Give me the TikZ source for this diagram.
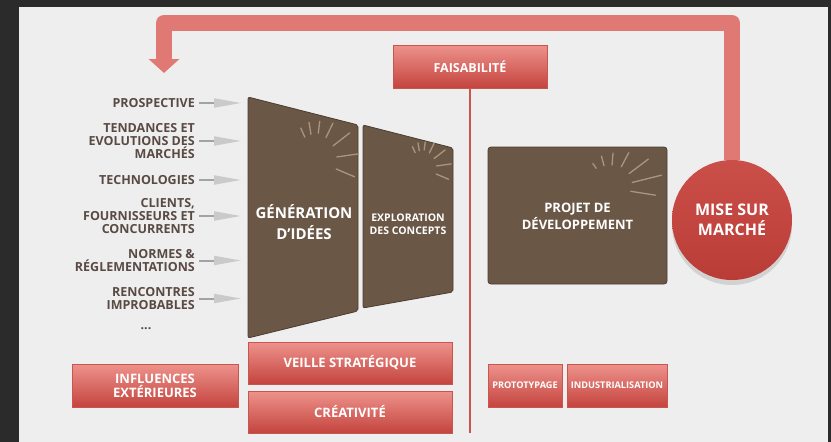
\documentclass[tikz,border=0pt]{standalone}
\usepackage{fontspec}
\setmainfont{Open Sans}
\usetikzlibrary{arrows.meta,shadows}

\definecolor{fond}{HTML}{2B2B2B}
\definecolor{papier}{HTML}{EEEEEE}
\definecolor{brun}{HTML}{6A5746}
\definecolor{brunfonce}{HTML}{4B3D31}
\definecolor{rayonclair}{HTML}{A8967F}
\definecolor{textebrun}{HTML}{5A4A44}
\definecolor{rougehaut}{HTML}{EE928C}
\definecolor{rougebas}{HTML}{C4443E}
\definecolor{bordrouge}{HTML}{C9554F}
\definecolor{rougerond}{HTML}{CB4F49}
\definecolor{rougerondbas}{HTML}{BA3C36}
\definecolor{retourrouge}{HTML}{E07973}
\definecolor{fleche}{HTML}{A3A3A3}
\definecolor{flechetete}{HTML}{CACACA}

\tikzset{
  boite/.style={draw=bordrouge, line width=0.5pt, top color=rougehaut, bottom color=rougebas,
    text=white, align=center, inner sep=0pt},
  etiquette/.style={anchor=east, align=right, text=textebrun, inner sep=0pt,
    font=\bfseries\fontsize{12.5}{13}\selectfont},
  entree/.style={line width=2pt, draw=fleche, -{Triangle[length=27pt,width=9pt,color=flechetete]}},
  panneau/.style={fill=brun, draw=brunfonce, line width=0.8pt, rounded corners=2pt},
  rayon/.style={draw=rayonclair, line width=1.3pt, line cap=round},
  titre/.style={text=white, align=center, inner sep=0pt},
  retour/.style={draw=retourrouge, line width=16pt, line join=round,
    -{Triangle[length=14pt,width=30pt]}},
}

\begin{document}
\begin{tikzpicture}[x=1pt,y=-1pt]
% fond sombre et feuille
\fill[fond] (0,0) rectangle (831,442);
\fill[papier] (19,7) rectangle (828,442);
\useasboundingbox (0,0) rectangle (831,442);

% les trois panneaux bruns
\draw[panneau] (248,97) -- (358,125) -- (358,311) -- (248,338) -- cycle;
\draw[panneau] (363,125) -- (453,148) -- (453,292) -- (363,308) -- cycle;
\draw[panneau, rounded corners=3pt] (488,147) rectangle (667,284);

% rayons (angle/debut/fin)
\foreach \cx/\cy/\s in {315/160/1, 422/168/0.67} {
  \begin{scope}[shift={(\cx,\cy)}, scale=\s]
    \foreach \a/\r/\R in {114/25/35, 99/26/38, 83/27/39, 64/25/41, 38/23/44, 8/22/44, -23/23/43}
      \draw[rayon] (\a:\r pt) -- (\a:\R pt);
  \end{scope}
}
\begin{scope}[shift={(610,188)}]
  \foreach \a/\r/\R in {125/24/30, 105/23/33, 85/23/35, 62/24/40, 37/24/48, 14/23/53, -9/21/46}
    \draw[rayon] (\a:\r pt) -- (\a:\R pt);
\end{scope}

% textes des panneaux
\node[titre, font=\bfseries\fontsize{15}{21}\selectfont] (gen) at (304,222) {GÉNÉRATION\\D’IDÉES};
\node[titre, font=\bfseries\fontsize{10.5}{12.5}\selectfont] (explo) at (408,224) {EXPLORATION\\DES CONCEPTS};
\node[titre, font=\bfseries\fontsize{13}{17}\selectfont] (projet) at (577.5,216) {PROJET DE\\DÉVELOPPEMENT};

% influences a gauche
\node[etiquette] (prosp) at (195,103) {PROSPECTIVE};
\node[etiquette] (tend) at (195,141) {TENDANCES ET\\EVOLUTIONS DES\\MARCHÉS};
\node[etiquette] (techno) at (195,180) {TECHNOLOGIES};
\node[etiquette] (clients) at (195,216) {CLIENTS,\\FOURNISSEURS ET\\CONCURRENTS};
\node[etiquette] (normes) at (195,260.5) {NORMES \&\\RÉGLEMENTATIONS};
\node[etiquette] (renc) at (195,298.5) {RENCONTRES\\IMPROBABLES};
\node[etiquette, anchor=center] (etc) at (146,329) {...};

% petites fleches vers le panneau
\coordinate (bord) at (241,0);
\foreach \n in {prosp,tend,techno,clients,normes,renc}
  \draw[entree] ([xshift=4pt]\n.east) -- (\n.east -| bord);

% boites rouges
\node[boite, minimum width=154pt, minimum height=43pt, font=\bfseries\fontsize{12.5}{14}\selectfont] (faisa) at (470,66.5) {FAISABILITÉ};
\node[boite, minimum width=166pt, minimum height=43pt, font=\bfseries\fontsize{13}{14}\selectfont] (influ) at (155,385.5) {INFLUENCES\\EXTÉRIEURES};
\node[boite, minimum width=204pt, minimum height=42pt, font=\bfseries\fontsize{13}{14}\selectfont] (veille) at (350,363) {VEILLE STRATÉGIQUE};
\node[boite, minimum width=204pt, minimum height=42pt, font=\bfseries\fontsize{13}{14}\selectfont] (creat) at (350,412) {CRÉATIVITÉ};
\node[boite, minimum width=74pt, minimum height=43pt, font=\bfseries\fontsize{9.2}{12}\selectfont] (proto) at (525,385.5) {PROTOTYPAGE};
\node[boite, minimum width=100pt, minimum height=43pt, font=\bfseries\fontsize{9.2}{12}\selectfont] (indus) at (617,385.5) {INDUSTRIALISATION};

% ligne de faisabilite
\coordinate (basligne) at (470,433);
\draw[bordrouge, line width=2pt] (faisa.south) -- (basligne);

% mise sur marche et retour
\node[circle, minimum size=120pt, top color=rougerond, bottom color=rougerondbas, titre,
  drop shadow={shadow xshift=0pt, shadow yshift=-5pt, opacity=0.25},
  font=\bfseries\fontsize{16}{19.5}\selectfont] (marche) at (732,220) {MISE SUR\\MARCHÉ};
\coordinate (haut) at (0,23);
\coordinate (pointe) at (164,73);
\draw[retour] (marche.north) -- (marche.north |- haut) -| (pointe);
\end{tikzpicture}
\end{document}
